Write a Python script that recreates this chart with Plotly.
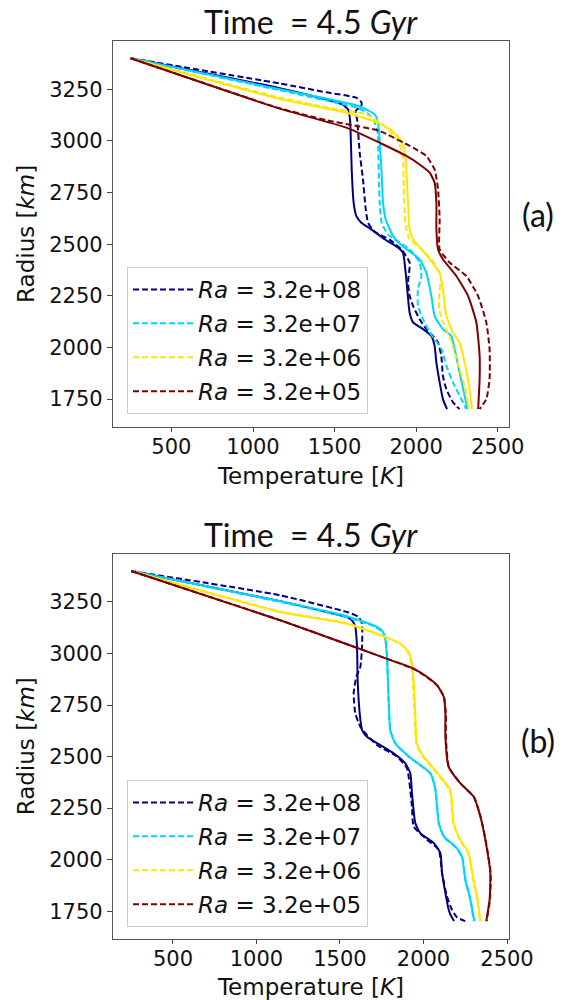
import plotly.graph_objects as go

# ---------------- data ----------------
RA_LABELS = ["3.2e+08", "3.2e+07", "3.2e+06", "3.2e+05"]
COLORS = ["#00007f", "#00d4ff", "#ffe600", "#7f0000"]

# Panel (a)  temperature [K] / radius [km]
a_ra8_solid_T = [250, 1164, 1450, 1550, 1585, 1595, 1600, 1605, 1617, 1633, 1664, 1725, 1807, 1888, 1919, 1929, 1940, 1960, 1981, 2042, 2093, 2113, 2124, 2144, 2164, 2189]
a_ra8_solid_R = [3400, 3255, 3200, 3175, 3150, 3100, 3000, 2860, 2700, 2637, 2604, 2572, 2524, 2484, 2459, 2411, 2330, 2169, 2121, 2089, 2056, 2008, 1927, 1831, 1750, 1702]
a_ra8_dash_T = [250, 1164, 1450, 1633, 1664, 1664, 1629, 1638, 1654, 1674, 1691, 1705, 1746, 1838, 1909, 1960, 1950, 1960, 1981, 2021, 2062, 2103, 2134, 2154, 2164, 2185, 2226, 2266]
a_ra8_dash_R = [3400, 3278, 3235, 3209, 3188, 3172, 3144, 3104, 2943, 2814, 2669, 2604, 2560, 2522, 2475, 2411, 2314, 2250, 2201, 2137, 2089, 2056, 2024, 1960, 1863, 1798, 1734, 1702]
a_ra7_solid_T = [250, 1164, 1450, 1650, 1700, 1746, 1766, 1776, 1787, 1797, 1813, 1858, 1910, 2021, 2062, 2093, 2113, 2164, 2215, 2236, 2266, 2297, 2315]
a_ra7_solid_R = [3400, 3250, 3205, 3168, 3150, 3128, 3088, 3007, 2862, 2701, 2621, 2540, 2495, 2427, 2362, 2250, 2153, 2089, 2056, 1992, 1879, 1766, 1702]
a_ra7_dash_T = [250, 1164, 1450, 1640, 1700, 1740, 1762, 1768, 1772, 1778, 1790, 1830, 1960, 2022, 2032, 2011, 2011, 2042, 2083, 2155, 2185, 2226, 2287, 2308]
a_ra7_dash_R = [3400, 3245, 3195, 3160, 3135, 3100, 3050, 2950, 2800, 2680, 2600, 2545, 2475, 2411, 2346, 2282, 2201, 2137, 2073, 1992, 1911, 1830, 1734, 1702]
a_ra6_solid_T = [250, 1164, 1572, 1776, 1858, 1909, 1930, 1940, 1950, 1960, 1981, 2010, 2083, 2144, 2164, 2185, 2226, 2266, 2297, 2324, 2342]
a_ra6_solid_R = [3400, 3203, 3136, 3085, 3045, 3000, 2951, 2862, 2701, 2572, 2524, 2495, 2427, 2362, 2282, 2153, 2072, 2024, 1927, 1814, 1702]
a_ra6_dash_T = [250, 1164, 1500, 1695, 1817, 1889, 1919, 1923, 1936, 1960, 2040, 2100, 2150, 2142, 2142, 2170, 2205, 2236, 2266, 2297, 2315, 2322]
a_ra6_dash_R = [3400, 3210, 3155, 3128, 3064, 2999, 2927, 2782, 2588, 2524, 2470, 2420, 2346, 2260, 2180, 2110, 2050, 1975, 1895, 1814, 1740, 1702]
a_ra5_solid_T = [250, 1164, 1572, 1776, 1940, 2021, 2083, 2113, 2124, 2124, 2134, 2164, 2246, 2318, 2369, 2389, 2389, 2380]
a_ra5_solid_R = [3400, 3156, 3064, 2991, 2927, 2886, 2846, 2798, 2701, 2572, 2475, 2427, 2346, 2250, 2121, 1959, 1847, 1702]
a_ra5_dash_T = [250, 1164, 1450, 1650, 1776, 1981, 2062, 2113, 2134, 2144, 2144, 2205, 2307, 2379, 2430, 2450, 2450, 2430, 2389]
a_ra5_dash_R = [3400, 3158, 3100, 3070, 3048, 2967, 2927, 2862, 2766, 2621, 2475, 2411, 2346, 2250, 2121, 1992, 1847, 1750, 1702]

# Panel (b)
b_ra8_solid_T = [250, 1142, 1450, 1542, 1572, 1592, 1602, 1606, 1618, 1632, 1661, 1741, 1821, 1891, 1921, 1931, 1951, 1981, 2061, 2101, 2111, 2131, 2150, 2160, 2183]
b_ra8_solid_R = [3400, 3254, 3195, 3177, 3161, 3128, 3032, 2870, 2709, 2629, 2596, 2556, 2516, 2467, 2419, 2322, 2177, 2129, 2081, 2032, 1936, 1839, 1760, 1735, 1702]
b_ra8_dash_T = [250, 1142, 1542, 1612, 1632, 1632, 1622, 1598, 1582, 1592, 1622, 1661, 1721, 1841, 1901, 1931, 1941, 2021, 2091, 2111, 2140, 2170, 2200, 2250]
b_ra8_dash_R = [3400, 3282, 3201, 3177, 3144, 3032, 2935, 2887, 2806, 2709, 2645, 2605, 2556, 2500, 2443, 2258, 2161, 2097, 2048, 1936, 1823, 1758, 1720, 1702]
b_ra7_solid_T = [250, 1142, 1500, 1701, 1751, 1771, 1781, 1791, 1801, 1831, 1920, 2041, 2071, 2091, 2121, 2190, 2230, 2250, 2280, 2305]
b_ra7_solid_R = [3400, 3254, 3190, 3137, 3112, 3072, 2983, 2790, 2629, 2564, 2495, 2419, 2338, 2177, 2113, 2064, 2016, 1903, 1807, 1702]
b_ra7_dash_T = [250, 1142, 1500, 1700, 1755, 1772, 1783, 1790, 1803, 1835, 1925, 2045, 2073, 2093, 2125, 2192, 2232, 2252, 2282, 2300]
b_ra7_dash_R = [3400, 3250, 3185, 3133, 3105, 3065, 2980, 2790, 2620, 2560, 2490, 2415, 2335, 2175, 2108, 2060, 2010, 1900, 1805, 1702]
b_ra6_solid_T = [250, 1142, 1542, 1741, 1861, 1911, 1931, 1941, 1951, 1961, 2001, 2101, 2161, 2181, 2220, 2270, 2300, 2324, 2340]
b_ra6_solid_R = [3400, 3201, 3144, 3088, 3048, 3007, 2951, 2870, 2709, 2560, 2500, 2403, 2338, 2177, 2097, 2032, 1903, 1807, 1702]
b_ra6_dash_T = [250, 1142, 1542, 1741, 1858, 1905, 1925, 1936, 1946, 1958, 2000, 2100, 2158, 2178, 2218, 2268, 2298, 2322, 2338]
b_ra6_dash_R = [3400, 3204, 3146, 3090, 3050, 3010, 2955, 2870, 2709, 2555, 2497, 2400, 2335, 2177, 2095, 2030, 1900, 1805, 1702]
b_ra5_solid_T = [250, 1142, 1542, 1741, 1941, 2021, 2081, 2121, 2131, 2131, 2150, 2220, 2300, 2340, 2370, 2400, 2396, 2376]
b_ra5_solid_R = [3400, 3161, 3045, 2986, 2927, 2887, 2846, 2790, 2709, 2596, 2451, 2371, 2306, 2210, 2097, 1936, 1807, 1702]
b_ra5_dash_T = [250, 1142, 1542, 1741, 1941, 2021, 2083, 2123, 2134, 2134, 2152, 2222, 2302, 2342, 2372, 2402, 2398, 2378]
b_ra5_dash_R = [3400, 3161, 3045, 2986, 2925, 2885, 2844, 2788, 2709, 2596, 2449, 2369, 2304, 2208, 2095, 1936, 1807, 1702]

PANEL_A = [
    (a_ra8_solid_T, a_ra8_solid_R, a_ra8_dash_T, a_ra8_dash_R),
    (a_ra7_solid_T, a_ra7_solid_R, a_ra7_dash_T, a_ra7_dash_R),
    (a_ra6_solid_T, a_ra6_solid_R, a_ra6_dash_T, a_ra6_dash_R),
    (a_ra5_solid_T, a_ra5_solid_R, a_ra5_dash_T, a_ra5_dash_R),
]
PANEL_B = [
    (b_ra8_solid_T, b_ra8_solid_R, b_ra8_dash_T, b_ra8_dash_R),
    (b_ra7_solid_T, b_ra7_solid_R, b_ra7_dash_T, b_ra7_dash_R),
    (b_ra6_solid_T, b_ra6_solid_R, b_ra6_dash_T, b_ra6_dash_R),
    (b_ra5_solid_T, b_ra5_solid_R, b_ra5_dash_T, b_ra5_dash_R),
]

X_TICKS = [500, 1000, 1500, 2000, 2500]
Y_TICKS = [1750, 2000, 2250, 2500, 2750, 3000, 3250]
TITLE = "Time  = 4.5 <i>Gyr</i>"
X_LABEL = "Temperature [<i>K</i>]"
Y_LABEL = "Radius [<i>km</i>]"

# ---------------- figure ----------------
fig = go.Figure()
LW = 2
DASH = "6px,3px"

for panel, (xa, ya, leg) in zip([PANEL_A, PANEL_B], [("x", "y", "legend"), ("x2", "y2", "legend2")]):
    for i, (ts, rs, td, rd) in enumerate(panel):
        grp = f"{leg}_{i}"
        fig.add_trace(go.Scatter(x=ts, y=rs, mode="lines", xaxis=xa, yaxis=ya,
                                 line=dict(color=COLORS[i], width=LW, shape="spline", smoothing=0.5),
                                 showlegend=False, legendgroup=grp, legend=leg, hoverinfo="skip"))
        fig.add_trace(go.Scatter(x=td, y=rd, mode="lines", xaxis=xa, yaxis=ya,
                                 line=dict(color=COLORS[i], width=LW, dash=DASH, shape="spline", smoothing=0.5),
                                 name=f"<i>Ra</i> = {RA_LABELS[i]}", showlegend=True,
                                 legendgroup=grp, legend=leg, hoverinfo="skip"))

XDOM = [113 / 568, 509 / 568]
YDOM_A = [1 - 427 / 1000, 1 - 40.7 / 1000]
YDOM_B = [1 - 939 / 1000, 1 - 553.5 / 1000]
TICKFONT = dict(family="DejaVu Sans", size=21, color="#111111")
TITLEFONT = dict(family="DejaVu Sans", size=23, color="#111111")

common_x = dict(tickvals=X_TICKS, ticks="outside", ticklen=4, tickcolor="#444", tickwidth=1,
                showline=True, mirror=True, linecolor="#555", linewidth=1.3, showgrid=False,
                zeroline=False, tickfont=TICKFONT, automargin=False, ticklabelstandoff=-3,
                title=dict(text=X_LABEL, font=TITLEFONT, standoff=9))
common_y = dict(tickvals=Y_TICKS, ticks="outside", ticklen=5, tickcolor="#444", tickwidth=1,
                showline=True, mirror=True, linecolor="#555", linewidth=1.3, showgrid=False,
                zeroline=False, tickfont=TICKFONT, range=[1615, 3485], automargin=False,
                title=dict(text=Y_LABEL, font=TITLEFONT, standoff=8))

legend_common = dict(xanchor="left", yanchor="top", font=dict(family="DejaVu Sans", size=23, color="#111"),
                     bgcolor="rgba(255,255,255,0.85)", bordercolor="#cccccc", borderwidth=1,
                     tracegroupgap=1, itemwidth=60)

fig.update_layout(
    width=568, height=1000, margin=dict(l=0, r=0, t=0, b=0, pad=0), autosize=False,
    paper_bgcolor="white", plot_bgcolor="white",
    xaxis=dict(domain=XDOM, anchor="y", range=[142, 2569], **common_x),
    yaxis=dict(domain=YDOM_A, anchor="x", **common_y),
    xaxis2=dict(domain=XDOM, anchor="y2", range=[141, 2512], **common_x),
    yaxis2=dict(domain=YDOM_B, anchor="x2", **common_y),
    legend=dict(x=127 / 568, y=1 - 267 / 1000, **legend_common),
    legend2=dict(x=127 / 568, y=1 - 780 / 1000, **legend_common),
    showlegend=True,
)

for ytop in [YDOM_A[1], YDOM_B[1]]:
    fig.add_annotation(text=TITLE, xref="paper", yref="paper", x=(XDOM[0] + XDOM[1]) / 2, y=ytop,
                       xanchor="center", yanchor="bottom", showarrow=False, yshift=-2,
                       font=dict(family="Lato", size=32, color="#111"))

for lab, yc in [("(a)", 1 - 215 / 1000), ("(b)", 1 - 740 / 1000)]:
    fig.add_annotation(text=lab, xref="paper", yref="paper", x=538 / 568, y=yc,
                       xanchor="center", yanchor="middle", showarrow=False,
                       font=dict(family="Lato", size=32, color="#111"))

fig.write_html("out.html", config={"responsive": False, "displayModeBar": False},
               post_script="document.body.style.margin='0';document.body.style.overflow='hidden';")
